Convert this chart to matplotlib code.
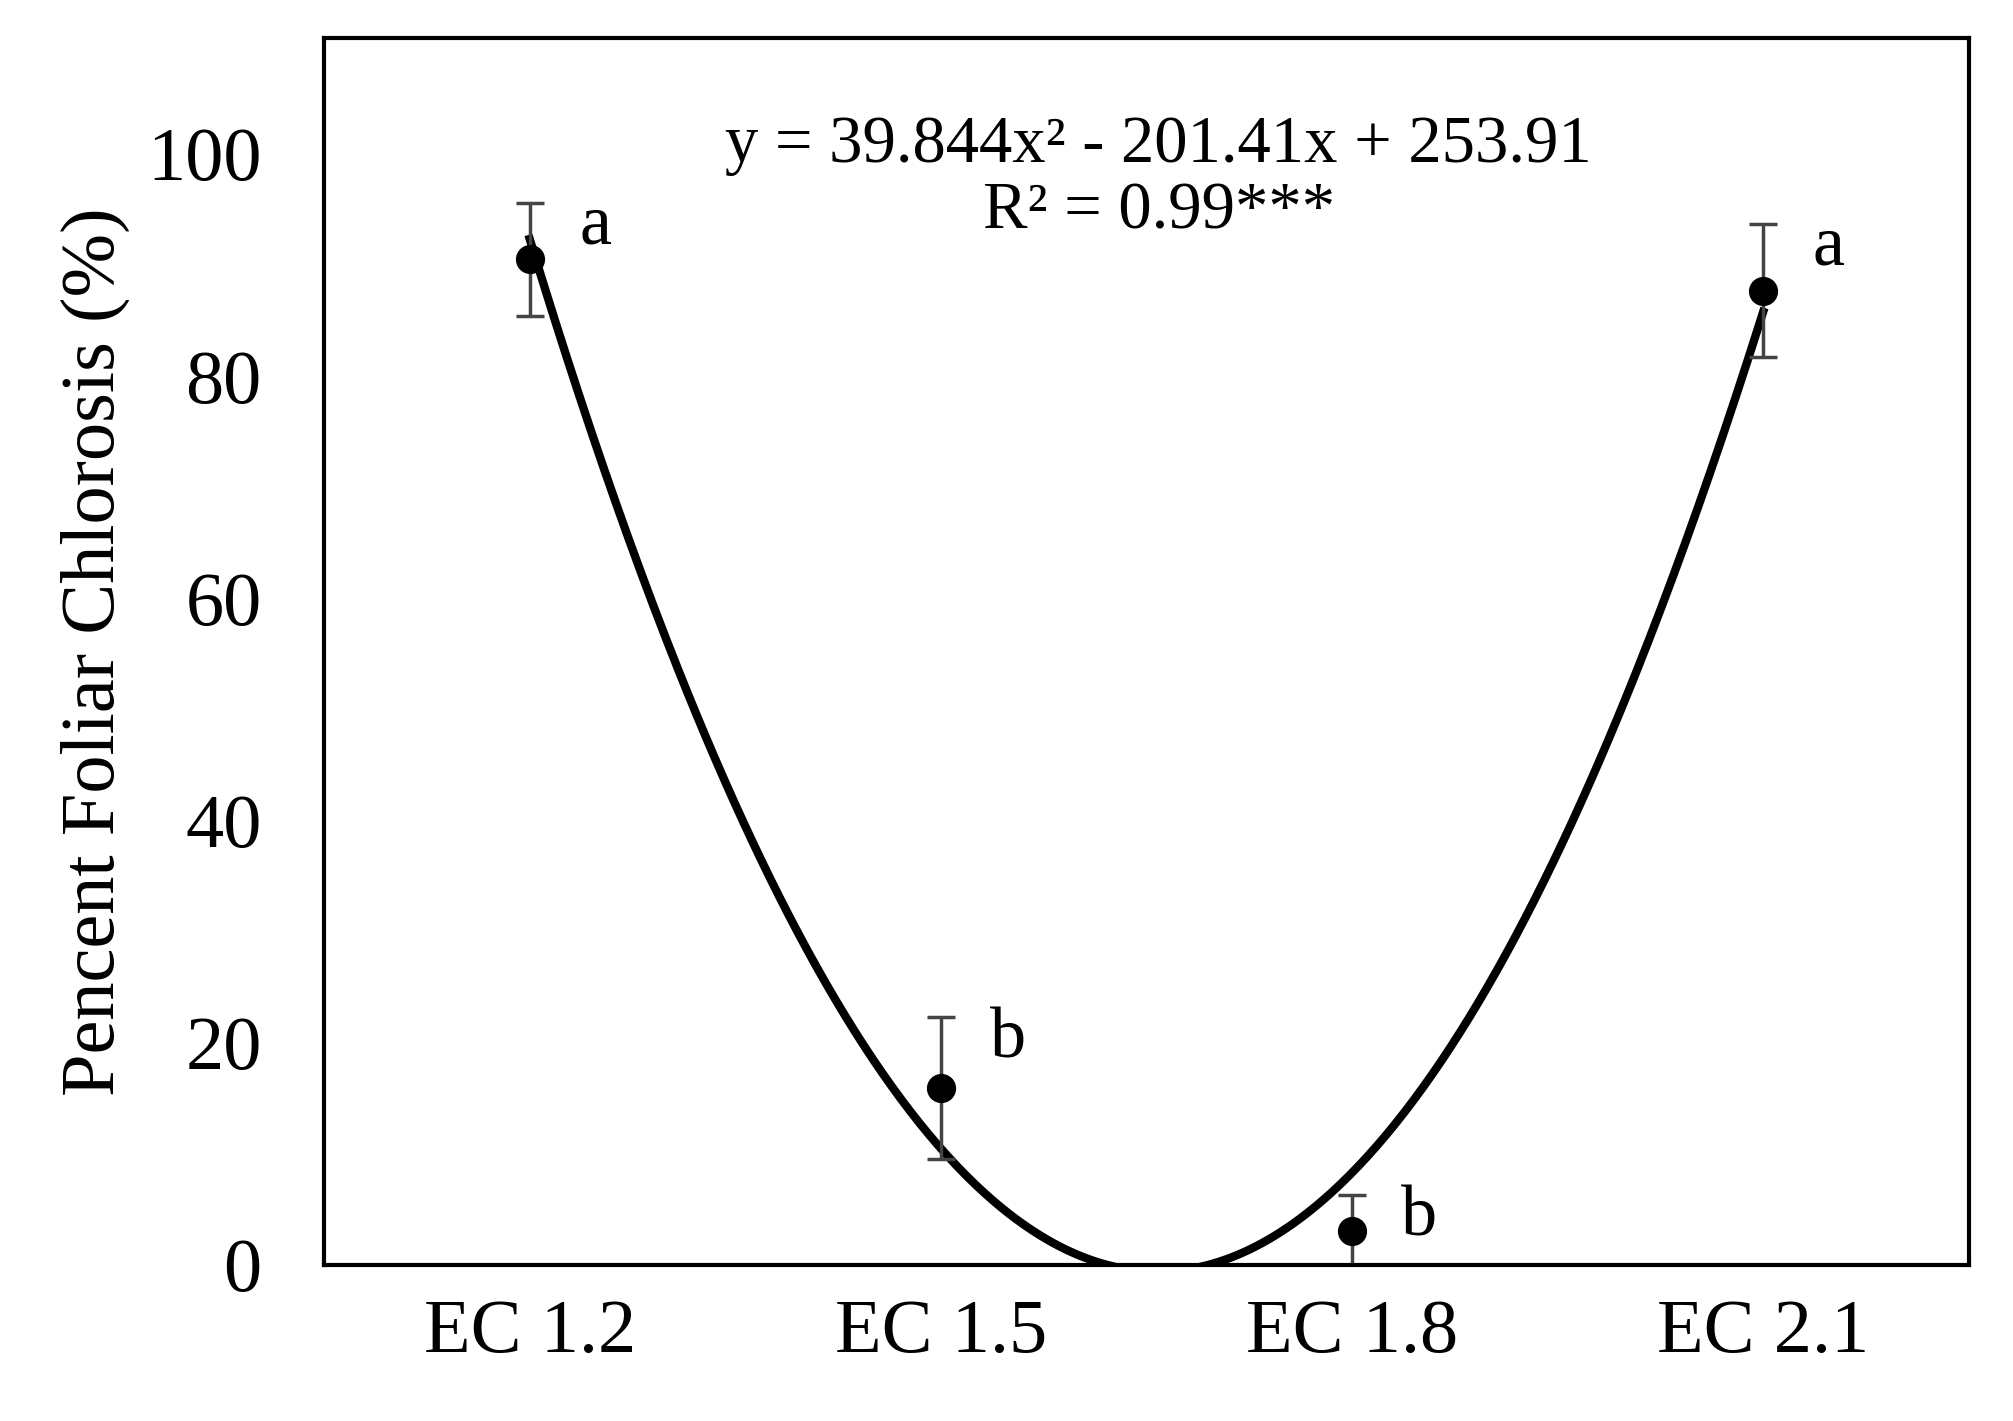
import matplotlib
matplotlib.use("Agg")
import matplotlib.pyplot as plt
import numpy as np

categories = ["EC 1.2", "EC 1.5", "EC 1.8", "EC 2.1"]
means = [90.5, 15.9, 3.0, 87.7]
errors = [5.1, 6.4, 3.3, 6.0]
letters = ["a", "b", "b", "a"]
coef = [39.844, -201.41, 253.91]

plt.rcParams['font.family'] = ['Liberation Serif', 'DejaVu Serif']
fig = plt.figure(figsize=(20.13, 14.21), dpi=100)
ax = fig.add_axes([0.161, 0.11, 0.826 - 0.009, 0.863])
x = np.arange(1, len(categories) + 1)
xs = np.linspace(1, 4, 400)
ys = np.polyval(coef, xs)
ax.plot(xs, ys, color='black', lw=6)
ax.errorbar(x, means, yerr=errors, fmt='o', color='black', ms=20,
            ecolor='#444444', elinewidth=2.5, capsize=10, capthick=2.5)
for xi, m, e, l in zip(x, means, errors, letters):
    ax.text(xi + 0.12, m + e - 5, l, fontsize=52, va='bottom', ha='left')
ax.text(2.53, 100.8, "y = 39.844x² - 201.41x + 253.91", fontsize=48, ha='center', va='center')
ax.text(2.53, 94.8, "R² = 0.99***", fontsize=48, ha='center', va='center')
ax.set_xlim(0.5, 4.5)
ax.set_ylim(0, 110.4)
ax.set_xticks(x)
ax.set_xticklabels(categories)
ax.set_yticks([0, 20, 40, 60, 80, 100])
ax.tick_params(labelsize=55, length=0, pad=25)
ax.tick_params(axis='y', pad=45)
ax.set_ylabel("Pencent Foliar Chlorosis (%)", fontsize=55, labelpad=12)
for s in ax.spines.values():
    s.set_linewidth(3)
fig.savefig("out.png", dpi=100)
